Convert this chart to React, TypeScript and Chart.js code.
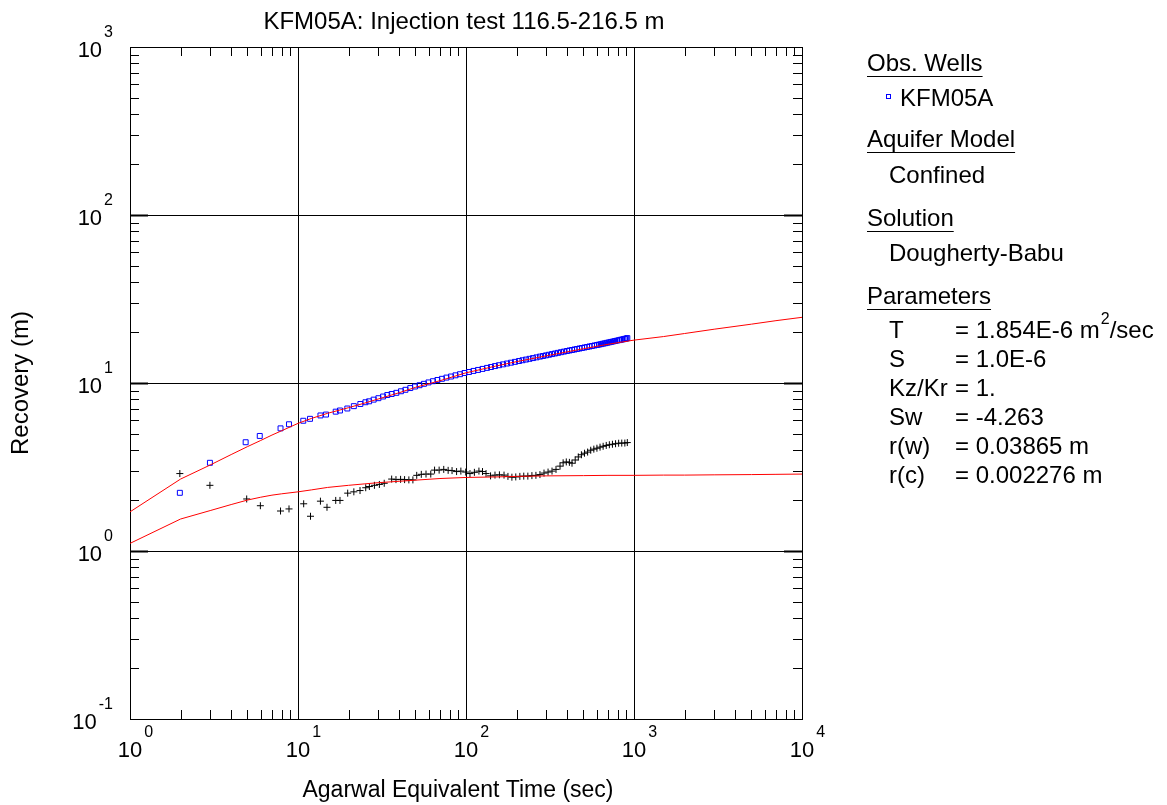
import React, { useEffect, useRef } from 'react';
import { Chart, registerables } from 'chart.js';

Chart.register(...registerables);

// ---- Data ----
const obsTime = [
  1.98, 2.99, 4.88, 5.92, 7.87, 8.84, 10.75, 11.79, 13.6, 14.68, 16.77, 17.78, 19.66, 21.5, 23.5, 25.2,
  26.5, 28.2, 30.1, 32.1, 34.0, 36.1, 38.5, 41.0, 43.6, 46.6, 49.7, 52.9, 56.2, 59.8, 63.6, 67.6,
  71.9, 76.5, 81.4, 86.6, 92.1, 98.0, 104.2, 110.8, 117.9, 125.4, 133.4, 140.9, 148.8, 157.2, 166.1, 175.4,
  185.3, 195.7, 206.8, 216.9, 227.6, 238.8, 250.5, 262.8, 275.7, 287.3, 299.4, 311.9, 325.1, 338.7, 352.9, 367.7,
  383.1, 399.2, 413.1, 427.6, 442.5, 457.9, 473.9, 490.4, 507.5, 525.2, 543.4, 562.3, 582.0, 602.3, 619.0, 636.3,
  654.0, 672.2, 690.9, 710.1, 729.8, 749.9, 770.9, 792.3, 814.3, 831.2, 848.5, 866.1, 884.0, 898.8, 912.4,
];
const obsRecovery = [
  2.22, 3.35, 4.44, 4.84, 5.37, 5.68, 5.96, 6.12, 6.41, 6.49, 6.75, 6.86, 7.05, 7.28, 7.5, 7.68,
  7.78, 7.96, 8.12, 8.31, 8.48, 8.6, 8.74, 8.93, 9.11, 9.33, 9.53, 9.7, 9.89, 10.08, 10.25, 10.42,
  10.59, 10.77, 10.93, 11.11, 11.28, 11.47, 11.63, 11.8, 11.96, 12.13, 12.3, 12.45, 12.61, 12.76, 12.91, 13.06,
  13.21, 13.36, 13.52, 13.66, 13.79, 13.93, 14.07, 14.21, 14.36, 14.48, 14.61, 14.73, 14.86, 14.99, 15.12, 15.25,
  15.38, 15.51, 15.62, 15.72, 15.83, 15.94, 16.05, 16.16, 16.27, 16.38, 16.5, 16.61, 16.73, 16.84, 16.93, 17.03,
  17.14, 17.24, 17.35, 17.45, 17.56, 17.66, 17.77, 17.88, 17.99, 18.07, 18.15, 18.23, 18.32, 18.38, 18.5,
];

const derivTime = [
  1.98, 2.99, 4.95, 5.97, 7.87, 8.84, 10.81, 11.87, 13.6, 14.88, 16.77, 17.78, 19.76, 21.5, 23.4, 25.3,
  26.6, 28.5, 30.5, 32.6, 36.1, 38.3, 40.8, 43.1, 45.7, 48.3, 50.9, 54.2, 57.8, 61.7, 65.0, 69.2,
  73.7, 78.3, 82.6, 87.9, 93.2, 99.6, 105.6, 112.2, 119.4, 125.4, 131.6, 140.0, 148.8, 158.1, 168.4, 177.7,
  187.6, 197.8, 209.2, 220.7, 233.4, 246.8, 260.7, 275.5, 291.3, 307.9, 325.1, 343.4, 362.9, 378.6, 395.3, 412.5,
  427.6, 446.7, 466.1, 486.4, 507.6, 529.6, 552.6, 576.7, 601.7, 627.8, 655.1, 683.6, 713.3, 744.2, 776.6, 810.3,
  845.5, 882.2, 912.4,
];
const derivValue = [
  2.89, 2.46, 2.04, 1.86, 1.73, 1.78, 1.91, 1.61, 1.98, 1.82, 2.0, 2.0, 2.21, 2.25, 2.29, 2.38,
  2.42, 2.46, 2.49, 2.53, 2.68, 2.66, 2.67, 2.66, 2.65, 2.65, 2.82, 2.86, 2.87, 2.87, 3.03, 3.03,
  3.06, 3.02, 3.01, 2.97, 2.99, 2.95, 2.89, 2.94, 2.99, 2.97, 2.89, 2.8, 2.83, 2.84, 2.83, 2.78,
  2.75, 2.76, 2.78, 2.79, 2.79, 2.81, 2.82, 2.85, 2.91, 2.95, 2.99, 3.06, 3.2, 3.35, 3.39, 3.37,
  3.33, 3.48, 3.63, 3.74, 3.82, 3.88, 3.98, 4.04, 4.09, 4.15, 4.2, 4.25, 4.29, 4.32, 4.35, 4.38,
  4.39, 4.39, 4.42,
];

const modelTime = [
  1, 2, 3, 4, 5, 6, 7, 8, 10, 12, 15, 20, 25, 30, 40, 50, 70, 100, 150, 200, 300, 500, 700, 1000,
  1500, 2000, 3000, 5000, 7000, 10000,
];
const modelRecovery = [
  1.71, 2.68, 3.25, 3.75, 4.18, 4.55, 4.9, 5.2, 5.75, 6.15, 6.6, 7.13, 7.6, 8.03, 8.75, 9.42, 10.32, 11.5,
  12.6, 13.4, 14.5, 16.0, 17.0, 18.0, 18.9, 19.7, 20.9, 22.4, 23.5, 24.6,
];
const modelDerivative = [
  1.11, 1.55, 1.74, 1.89, 2.01, 2.09, 2.15, 2.19, 2.25, 2.31, 2.39, 2.46, 2.51, 2.55, 2.6, 2.64, 2.7, 2.74,
  2.76, 2.78, 2.8, 2.81, 2.82, 2.82, 2.83, 2.83, 2.84, 2.85, 2.86, 2.87,
];

const xTickValues = [1, 10, 100, 1000, 10000];
const xTickExponents = ['0', '1', '2', '3', '4'];
const yTickValues = [0.1, 1, 10, 100, 1000];
const yTickExponents = ['-1', '0', '1', '2', '3'];
const minorMultipliers = [2, 3, 4, 5, 6, 7, 8, 9];

const titleText = 'KFM05A: Injection test 116.5-216.5 m';
const xAxisTitle = 'Agarwal Equivalent Time (sec)';
const yAxisTitle = 'Recovery (m)';

const legendWell = 'KFM05A';
const legendSections = ['Obs. Wells', 'Aquifer Model', 'Solution', 'Parameters'];
const aquiferModel = 'Confined';
const solutionName = 'Dougherty-Babu';
const paramLabels = ['T', 'S', 'Kz/Kr', 'Sw', 'r(w)', 'r(c)'];
const paramValues = ['= 1.854E-6 m', '= 1.0E-6', '= 1.', '= -4.263', '= 0.03865 m', '= 0.002276 m'];
const paramUnitSup = ['2', '', '', '', '', ''];
const paramUnitTail = ['/sec', '', '', '', '', ''];

const FONT = '"Liberation Sans", Arial, Helvetica, sans-serif';
const W = 1167;
const H = 805;

const toXY = (xs: number[], ys: number[]) => xs.map((x, i) => ({ x, y: ys[i] }));

const decorPlugin = {
  id: 'decor',
  afterDraw(chart: any) {
    const ctx: CanvasRenderingContext2D = chart.ctx;
    const xs = chart.scales.x;
    const ys = chart.scales.y;
    const area = chart.chartArea;
    ctx.save();
    ctx.strokeStyle = '#000';
    ctx.lineWidth = 1;

    // minor ticks (inside)
    ctx.beginPath();
    const xDec = xTickValues.slice(0, -1);
    xDec.forEach((d) => {
      minorMultipliers.forEach((m) => {
        const px = Math.round(xs.getPixelForValue(d * m)) + 0.5;
        ctx.moveTo(px, area.bottom);
        ctx.lineTo(px, area.bottom - 9);
        ctx.moveTo(px, area.top);
        ctx.lineTo(px, area.top + 9);
      });
    });
    const yDec = yTickValues.slice(0, -1);
    yDec.forEach((d) => {
      minorMultipliers.forEach((m) => {
        const py = Math.round(ys.getPixelForValue(d * m)) + 0.5;
        ctx.moveTo(area.left, py);
        ctx.lineTo(area.left + 9, py);
        ctx.moveTo(area.right, py);
        ctx.lineTo(area.right - 9, py);
      });
    });
    ctx.stroke();
    // major ticks on y (inner decades)
    ctx.beginPath();
    ctx.lineWidth = 2;
    yTickValues.slice(1, -1).forEach((v) => {
      const py = Math.round(ys.getPixelForValue(v)) + 0.5;
      ctx.moveTo(area.left, py);
      ctx.lineTo(area.left + 18, py);
      ctx.moveTo(area.right, py);
      ctx.lineTo(area.right - 18, py);
    });
    ctx.stroke();

    ctx.fillStyle = '#000';
    ctx.textBaseline = 'alphabetic';

    // x tick labels
    xTickValues.forEach((v, i) => {
      const px = xs.getPixelForValue(v);
      ctx.font = `22px ${FONT}`;
      ctx.textAlign = 'center';
      ctx.fillText('10', px, area.bottom + 38);
      const w10 = ctx.measureText('10').width;
      ctx.font = `16px ${FONT}`;
      ctx.textAlign = 'left';
      ctx.fillText(xTickExponents[i], px + w10 / 2 + 2, area.bottom + 18);
    });

    // y tick labels
    yTickValues.forEach((v, i) => {
      const py = ys.getPixelForValue(v);
      ctx.font = `16px ${FONT}`;
      const ew = ctx.measureText(yTickExponents[i]).width;
      const right = 113;
      ctx.textAlign = 'left';
      ctx.fillText(yTickExponents[i], right - ew, py - 10);
      ctx.font = `22px ${FONT}`;
      ctx.textAlign = 'right';
      ctx.fillText('10', right - ew - 2, py + 10);
    });

    // title
    ctx.font = `24px ${FONT}`;
    ctx.textAlign = 'center';
    ctx.fillText(titleText, 464, 29);

    // axis titles
    ctx.font = `23px ${FONT}`;
    ctx.fillText(xAxisTitle, 458, 797);
    ctx.save();
    ctx.translate(28, 383);
    ctx.rotate(-Math.PI / 2);
    ctx.font = `24px ${FONT}`;
    ctx.textAlign = 'center';
    ctx.fillText(yAxisTitle, 0, 0);
    ctx.restore();

    // legend panel
    ctx.font = `24px ${FONT}`;
    ctx.textAlign = 'left';
    const headerY = [71, 147, 226, 304];
    ctx.lineWidth = 1;
    legendSections.forEach((s, i) => {
      ctx.fillText(s, 867, headerY[i]);
      const w = ctx.measureText(s).width;
      ctx.beginPath();
      ctx.moveTo(867, headerY[i] + 5.5);
      ctx.lineTo(867 + w, headerY[i] + 5.5);
      ctx.stroke();
    });
    ctx.strokeStyle = '#0000ff';
    ctx.strokeRect(886.5, 94.5, 4, 4);
    ctx.fillText(legendWell, 900, 106);
    ctx.fillText(aquiferModel, 889, 183);
    ctx.fillText(solutionName, 889, 261);
    const paramY = [338, 367, 396, 425, 454, 483];
    paramLabels.forEach((lab, i) => {
      ctx.font = `24px ${FONT}`;
      ctx.fillText(lab, 889, paramY[i]);
      ctx.fillText(paramValues[i], 955, paramY[i]);
      let x = 955 + ctx.measureText(paramValues[i]).width;
      if (paramUnitSup[i]) {
        ctx.font = `16px ${FONT}`;
        ctx.fillText(paramUnitSup[i], x + 1, paramY[i] - 14);
        x += ctx.measureText(paramUnitSup[i]).width + 1;
        ctx.font = `24px ${FONT}`;
        ctx.fillText(paramUnitTail[i], x, paramY[i]);
      }
    });
    ctx.restore();
  },
};

export default function App() {
  const ref = useRef<HTMLCanvasElement | null>(null);
  useEffect(() => {
    document.body.style.margin = '0';
    const canvas = ref.current;
    if (!canvas) return;
    const decadeTicks = (vals: number[]) => (scale: any) => {
      scale.ticks = vals.map((v) => ({ value: v }));
    };
    const chart = new Chart(canvas, {
      type: 'scatter',
      data: {
        datasets: [
          {
            label: 'model',
            data: toXY(modelTime, modelRecovery),
            showLine: true,
            borderColor: '#ff0000',
            borderWidth: 1,
            pointRadius: 0,
            fill: false,
            tension: 0,
          },
          {
            label: 'model derivative',
            data: toXY(modelTime, modelDerivative),
            showLine: true,
            borderColor: '#ff0000',
            borderWidth: 1,
            pointRadius: 0,
            fill: false,
            tension: 0,
          },
          {
            label: 'KFM05A',
            data: toXY(obsTime, obsRecovery),
            pointStyle: 'rect',
            pointRadius: 3.5,
            borderColor: '#0000ff',
            backgroundColor: 'rgba(0,0,0,0)',
            borderWidth: 1,
          },
          {
            label: 'derivative',
            data: toXY(derivTime, derivValue),
            pointStyle: 'cross',
            pointRadius: 3.5,
            borderColor: '#000000',
            backgroundColor: '#000000',
            borderWidth: 1,
          },
        ],
      },
      options: {
        animation: false,
        responsive: false,
        devicePixelRatio: 1,
        events: [],
        layout: { padding: { left: 130, top: 47, right: W - 802, bottom: H - 719 } },
        plugins: { legend: { display: false }, tooltip: { enabled: false }, title: { display: false } },
        scales: {
          x: {
            type: 'logarithmic',
            min: 1,
            max: 10000,
            afterBuildTicks: decadeTicks(xTickValues),
            ticks: { display: false },
            grid: { color: '#000', lineWidth: 1, drawTicks: false },
            border: { display: true, color: '#000', width: 1 },
          },
          y: {
            type: 'logarithmic',
            min: 0.1,
            max: 1000,
            afterBuildTicks: decadeTicks(yTickValues),
            ticks: { display: false },
            grid: { color: '#000', lineWidth: 1, drawTicks: false },
            border: { display: true, color: '#000', width: 1 },
          },
        },
      },
      plugins: [decorPlugin],
    } as any);
    return () => chart.destroy();
  }, []);
  return (
    <div style={{ position: 'absolute', left: 0, top: 0, width: W, height: H, background: '#fff' }}>
      <canvas ref={ref} width={W} height={H} style={{ display: 'block', width: W, height: H }} />
    </div>
  );
}
